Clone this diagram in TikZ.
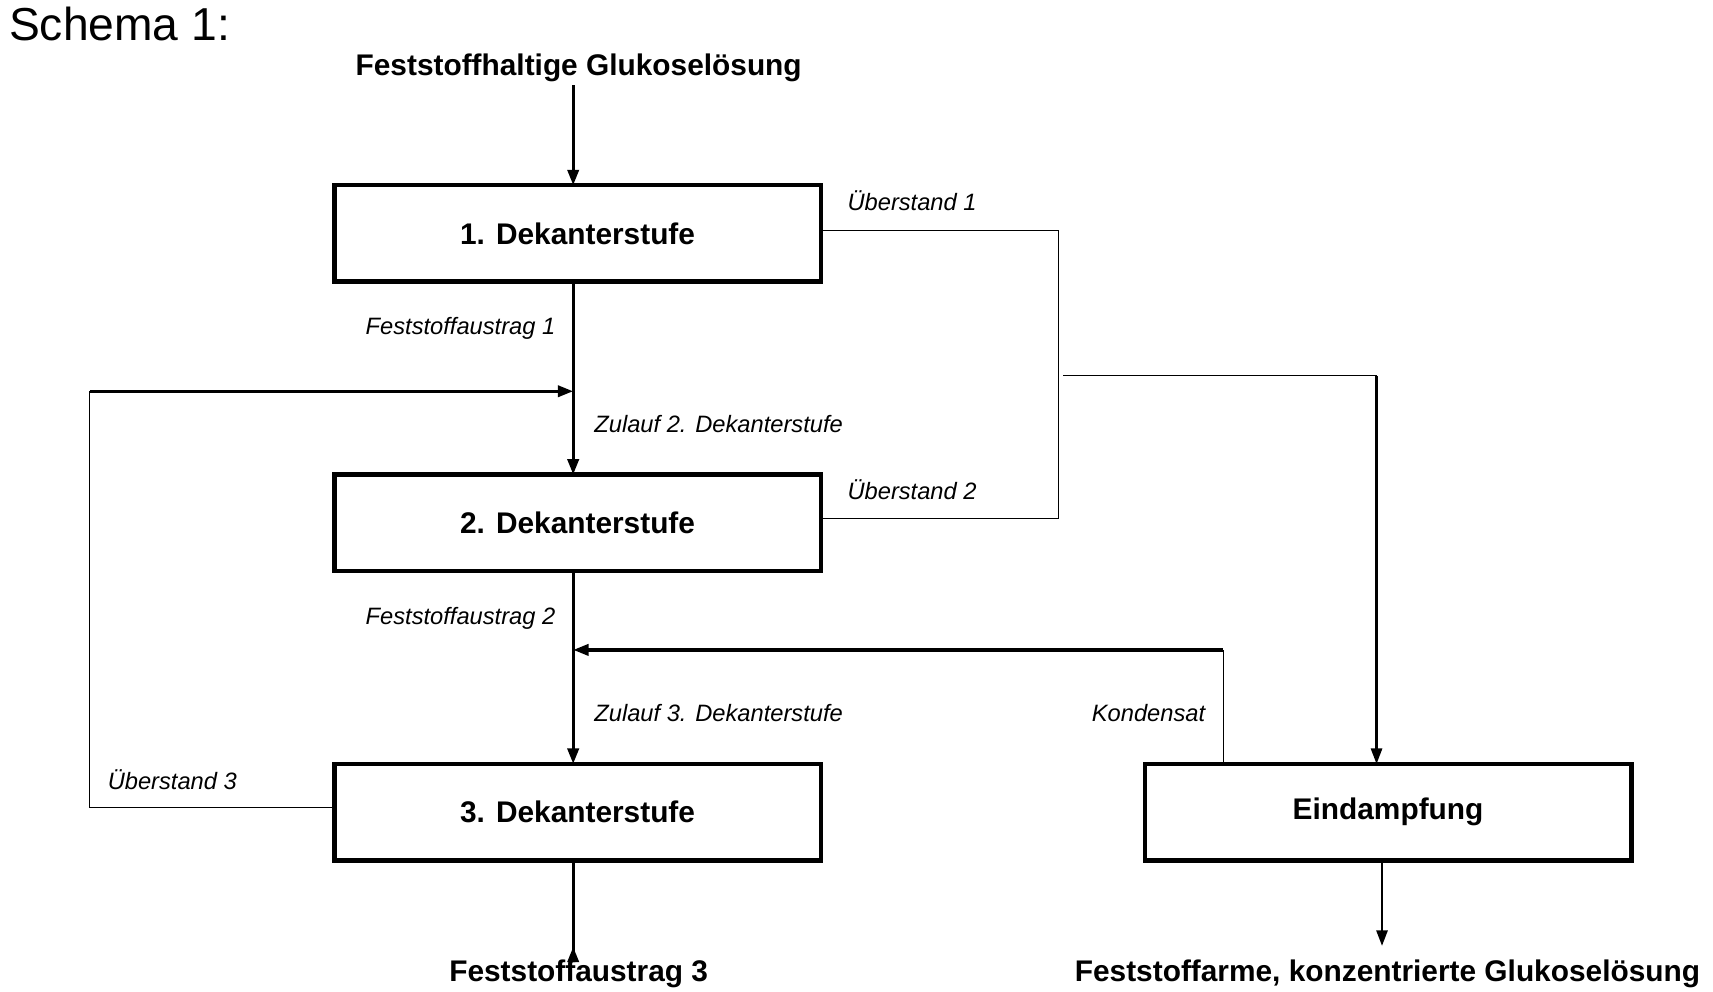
\documentclass[tikz,border=0pt]{standalone}
\usepackage{fontspec}
\setmainfont{Liberation Sans}
\usetikzlibrary{arrows.meta}
\begin{document}
\begin{tikzpicture}[x=0.02cm,y=-0.02cm,
  box/.style={draw,line width=2.3pt,minimum width=8.88cm,minimum height=1.76cm,font=\fontsize{15.5}{18}\selectfont\bfseries,inner sep=0pt,outer sep=0pt},
  lab/.style={font=\fontsize{12.3}{14}\selectfont\itshape,inner sep=0pt},
  big/.style={font=\fontsize{15.5}{18}\selectfont\bfseries,inner sep=0pt},
  thk/.style={line width=1.7pt},
  med/.style={line width=1.1pt},
  thn/.style={line width=0.6pt},
  arr/.style={-{Triangle[length=8pt,width=5.8pt]}}]
\useasboundingbox (0,0) rectangle (1563,905);
\node[anchor=west,font=\fontsize{24}{28}\selectfont,inner sep=0pt] (title) at (8,22) {Schema 1:};
\node[big] (in) at (528,62) {Feststoffhaltige Glukoselösung};
\node[box] (b1) at (527,213) {1. Dekanterstufe};
\node[box] (b2) at (527,477) {2. Dekanterstufe};
\node[box] (b3) at (527,741) {3. Dekanterstufe};
\node[box] (ev) at (1266.5,741) {Eindampfung};
\node[big] (out3) at (528,889) {Feststoffaustrag 3};
\node[big] (outg) at (1266,889) {Feststoffarme, konzentrierte Glukoselösung};
\coordinate (t1) at (523,78);
\coordinate (r1) at (523,357);
\coordinate (l1) at (82,357);
\coordinate (l2) at (82,737);
\coordinate (c1) at (523,593);
\coordinate (k1) at (1116,593);
\coordinate (u1) at (966,210);
\coordinate (u2) at (966,473);
\coordinate (h1) at (970,343);
\coordinate (h2) at (1256,343);
\draw[thk,arr] (t1) -- (t1|-b1.north);
\draw[thk,arr] (b1.south-|t1) -- (b2.north-|t1);
\draw[thk,arr] (b2.south-|t1) -- (b3.north-|t1);
\draw[thk,arr] (b3.south-|t1) -- (out3.north-|t1) ++(0,-12);
\draw[thk,arr] (l1) -- (r1);
\draw[thn] (l1) -- (l2) -- (l2-|b3.west);
\draw[thn] (b1.east|-u1) -- (u1) -- (u2) -- (b2.east|-u2);
\draw[thn] (h1) -- (h2);
\draw[med,arr] (h2) -- (h2|-ev.north);
\draw[thn] (k1|-ev.north) -- (k1);
\draw[thk,arr] (k1) -- (c1);
\draw[med,arr] (1261,785) -- (1261,863);
\node[lab,anchor=west] (lu1) at (773,183) {Überstand 1};
\node[lab,anchor=east] (lf1) at (507,300) {Feststoffaustrag 1};
\node[lab,anchor=west] (lz2) at (542,387) {Zulauf 2. Dekanterstufe};
\node[lab,anchor=west] (lu2) at (773,447) {Überstand 2};
\node[lab,anchor=east] (lf2) at (507,564) {Feststoffaustrag 2};
\node[lab,anchor=west] (lz3) at (542,651) {Zulauf 3. Dekanterstufe};
\node[lab,anchor=east] (lk) at (1100,651) {Kondensat};
\node[lab,anchor=west] (lu3) at (98,711) {Überstand 3};
\end{tikzpicture}
\end{document}
